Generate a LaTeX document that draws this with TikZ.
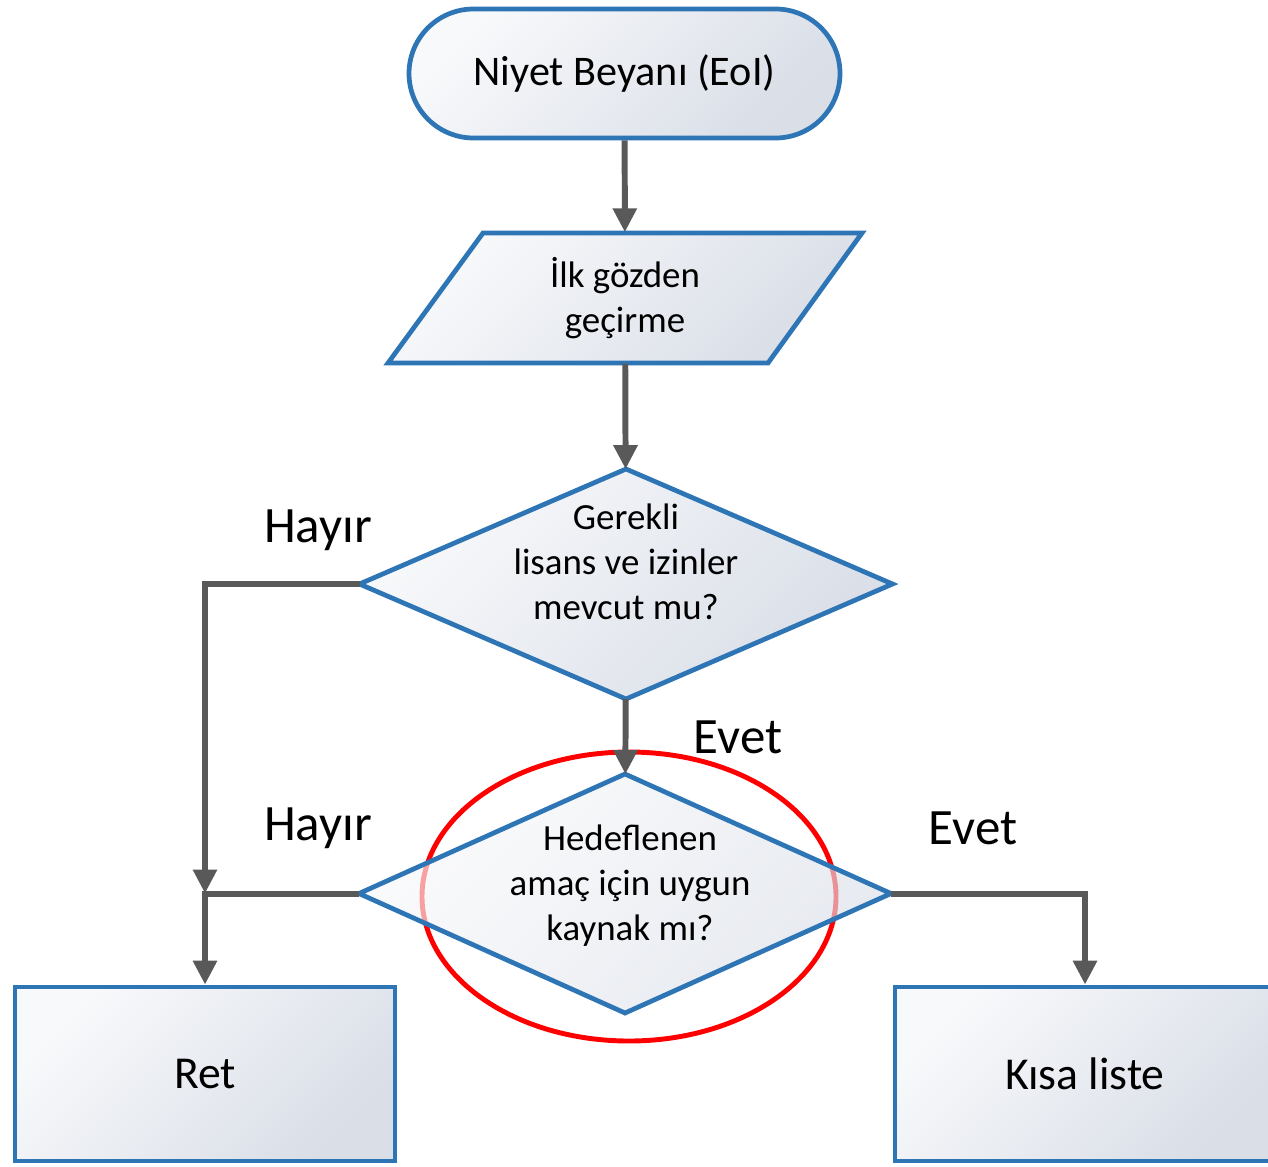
\documentclass[tikz,border=0pt]{standalone}
\usepackage{fontspec}
\setmainfont{Carlito}
\usetikzlibrary{positioning,shapes.geometric,arrows.meta}

\definecolor{bordblue}{HTML}{2E75B6}
\definecolor{flowgray}{HTML}{595959}
\definecolor{shadelight}{HTML}{F8F9FB}
\definecolor{shadedark}{HTML}{D9DEE7}

\tikzset{
  boxfill/.style={draw=bordblue, line width=1.35pt, top color=shadelight,
    bottom color=shadedark, shading angle=45},
  decision/.style={boxfill, diamond, inner sep=0pt, outer sep=0pt},
  flow/.style={draw=flowgray, line width=1.7pt,
    -{Triangle[length=2.4mm,width=2.3mm]}},
  answer/.style={font=\fontsize{14.5}{17}\selectfont},
  smalltext/.style={font=\fontsize{10.5}{12.8}\selectfont, align=center}
}

\begin{document}
\begin{tikzpicture}
  \useasboundingbox (0,0) rectangle (12.68,-11.66);

  % Start
  \node[boxfill, rounded corners=0.645cm, minimum width=4.31cm,
    minimum height=1.29cm, font=\fontsize{12}{14}\selectfont]
    (term) at (6.245,-0.735) {Niyet Beyanı (EoI)};

  % First review (parallelogram)
  \path[boxfill] (4.83,-2.33) -- (8.62,-2.33) -- (7.68,-3.63) -- (3.88,-3.63) -- cycle;
  \node[smalltext, minimum width=3.8cm, minimum height=1.30cm, inner sep=0pt]
    (review) at (6.25,-2.98) {İlk gözden\\geçirme};

  % Decisions
  \node[decision, minimum width=5.33cm, minimum height=2.30cm,
    label={[smalltext, yshift=0.22cm]center:Gerekli\\lisans ve izinler\\mevcut mu?}]
    (licence) at (6.26,-5.84) {};

  \draw[red, line width=1.4pt] (6.29,-8.965) ellipse [x radius=2.07cm, y radius=1.445cm];

  \node[decision, fill opacity=0.65, minimum width=5.32cm, minimum height=2.39cm,
    label={[smalltext, text opacity=1, yshift=0.08cm, xshift=0.05cm]center:Hedeflenen\\amaç için uygun\\kaynak mı?}]
    (purpose) at (6.25,-8.935) {};

  % Outcomes
  \node[boxfill, minimum width=3.80cm, minimum height=1.74cm,
    font=\fontsize{13}{15}\selectfont] (reject) at (2.05,-10.74) {Ret};
  \node[boxfill, minimum width=3.80cm, minimum height=1.74cm,
    font=\fontsize{13}{15}\selectfont] (shortlist) at (10.85,-10.74) {Kısa liste};

  \coordinate (join) at (purpose.west -| reject.north);

  % Connectors
  \draw[flow] (term) -- (review);
  \draw[flow] (review) -- (licence);
  \draw[flow] (licence) -- (purpose);
  \draw[flow] (licence.west) -| (join);
  \draw[flow] (purpose.west) -| (reject.north);
  \draw[flow] (purpose.east) -| (shortlist.north);

  % Answers
  \node[answer] (no1) at (3.18,-5.30) {Hayır};
  \node[answer] (yes1) at (7.38,-7.37) {Evet};
  \node[answer] (no2) at (3.18,-8.28) {Hayır};
  \node[answer] (yes2) at (9.73,-8.28) {Evet};
\end{tikzpicture}
\end{document}
